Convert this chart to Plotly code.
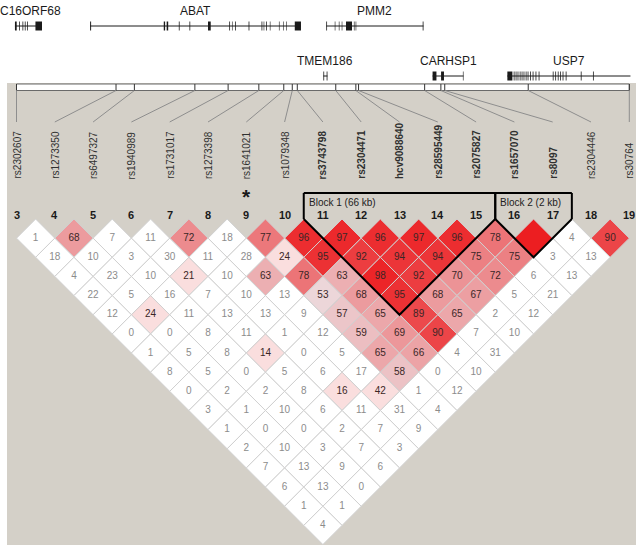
import plotly.graph_objects as go

# ---------------- data ----------------
snp_numbers = list(range(3, 20))
snp_names = ["rs2302607", "rs1273350", "rs6497327", "rs1940989", "rs1731017",
             "rs1273398", "rs1641021", "rs1079348", "rs3743798", "rs2304471",
             "hcv9088640", "rs28595449", "rs2075827", "rs1657070", "rs8097",
             "rs2304446", "rs30764"]
snp_pos_kb = [0.0, 51.5, 61.0, 92.3, 109.5, 125.4, 138.3, 142.7, 145.3, 165.2,
              175.6, 177.0, 211.2, 219.6, 221.6, 264.8, 317.1]

# D' (x100) by diagonal distance: ld_rows[k][n] = pair (snp n, snp n+k+1)
ld_rows = [
    [1, 68, 7, 11, 72, 18, 77, 96, 97, 96, 97, 96, 78, 100, 4, 90],
    [18, 10, 3, 30, 11, 28, 24, 95, 92, 94, 94, 75, 75, 3, 13],
    [4, 23, 10, 21, 10, 63, 78, 63, 98, 92, 70, 72, 6, 13],
    [22, 5, 16, 7, 10, 13, 53, 68, 95, 68, 67, 5, 21],
    [12, 24, 11, 13, 13, 9, 57, 65, 89, 65, 2, 12],
    [0, 0, 8, 11, 1, 12, 59, 69, 90, 7, 10],
    [1, 5, 8, 14, 0, 5, 65, 66, 4, 31],
    [8, 5, 0, 5, 6, 17, 58, 0, 10],
    [0, 2, 2, 8, 16, 42, 1, 12],
    [3, 1, 10, 6, 11, 31, 4],
    [1, 0, 0, 2, 7, 9],
    [2, 10, 3, 7, 3],
    [7, 13, 9, 6],
    [6, 13, 0],
    [1, 1],
    [4],
]
# pairs with LOD >= 2 although D' < 0.5 (light pink)
lod_sig_low = [(9, 11), (6, 9), (4, 9), (6, 13), (7, 16), (8, 17)]
blocks = [(11, 15), (16, 17)]
marked_snp = 9

gene_names = ["C16ORF68", "ABAT", "PMM2", "TMEM186", "CARHSP1", "USP7"]
gene_track = [0, 0, 0, 1, 1, 1]
gene_start = [-0.8, 38.1, 160.3, 158.8, 215.3, 254.0]
gene_end = [13.2, 147.2, 210.6, 160.9, 231.3, 317.7]
gene_exons = [
    [(-0.8, 0.1), (1.4, 1.8), (3.1, 3.5), (4.3, 4.7), (5.5, 5.9), (9.8, 13.2)],
    [(38.1, 38.6), (76.2, 76.9), (77.7, 78.5), (84.0, 84.4), (89.5, 89.9),
     (99.1, 100.5), (110.1, 110.5), (111.5, 111.8), (113.1, 113.5),
     (120.1, 120.5), (126.8, 127.2), (127.9, 128.2), (129.1, 129.5),
     (131.1, 131.4), (135.8, 136.1), (138.1, 138.4), (139.6, 139.9),
     (144.0, 147.2)],
    [(160.3, 160.7), (164.7, 165.0), (166.8, 167.1), (168.3, 168.6),
     (170.5, 173.6), (174.6, 174.9), (175.5, 175.8), (210.2, 210.6)],
    [(158.8, 159.2), (160.5, 160.9)],
    [(215.3, 217.3), (219.7, 221.2), (231.0, 231.3)],
    [(254.0, 256.6), (257.3, 257.7), (258.3, 258.7), (259.3, 259.7),
     (260.4, 260.8), (261.4, 261.8), (262.4, 262.8), (263.5, 263.9),
     (264.5, 264.9), (265.8, 266.2), (267.1, 267.5), (268.6, 269.0),
     (270.2, 270.6), (277.5, 277.9), (278.8, 279.2), (280.1, 280.5),
     (281.3, 281.7), (282.6, 283.0), (284.2, 284.6), (292.0, 292.4),
     (298.3, 298.7)],
]

# ---------------- layout helpers ----------------
W, H = 641, 548
PX_X0, COL_W = 16.5, 38.3      # pixel x of first SNP column, column spacing
ROW_Y0, ROW_H = 219.0, 19.15   # pixel y of triangle top, half-diamond height
FONT = "Liberation Sans, Arial, sans-serif"


def xpx(px):
    return snp_numbers[0] + (px - PX_X0) / COL_W


def ypx(px):
    return (px - ROW_Y0) / ROW_H


def kb_to_x(kb):
    k0, k1 = snp_pos_kb[0], snp_pos_kb[-1]
    return snp_numbers[0] + (kb - k0) / (k1 - k0) * (snp_numbers[-1] - snp_numbers[0])


def cell_color(v, sig):
    if not sig:
        return "white"
    d = v / 100.0
    if d < 0.5:
        return "rgb(250,222,222)"
    blgr = (255 - 32) * 2 * (1 - d)
    g = int(30 + blgr * 0.88)
    return f"rgb(236,{g},{g + 3})"


shapes = []
annotations = []

# gray panel
shapes.append(dict(type="rect", xref="paper", yref="paper", x0=7 / W, x1=636 / W,
                   y0=1 - 545 / H, y1=1 - 83 / H, fillcolor="#d4d0c8",
                   line=dict(width=0), layer="below"))

# genes
track_line_px = [26, 76]
track_text_px = [11, 61]
for name, tr, gs, ge, exons in zip(gene_names, gene_track, gene_start, gene_end, gene_exons):
    yl = ypx(track_line_px[tr])
    shapes.append(dict(type="line", x0=kb_to_x(gs), x1=kb_to_x(ge), y0=yl, y1=yl,
                       line=dict(color="#1a1a1a", width=1)))
    for s, e in exons:
        shapes.append(dict(type="rect", x0=kb_to_x(s), x1=kb_to_x(e),
                           y0=ypx(track_line_px[tr] - 4.5), y1=ypx(track_line_px[tr] + 4.5),
                           fillcolor="#1a1a1a", line=dict(width=0)))
    # keep the label inside the picture (approx. 6.8 px per character at 12 px)
    half_w = len(name) * 6.8 / 2
    cx = kb_to_x((gs + ge) / 2)
    cx = max(cx, xpx(3 + half_w))
    annotations.append(dict(x=cx, y=ypx(track_text_px[tr]), text=name,
                            showarrow=False, xanchor="center", yanchor="middle",
                            font=dict(family=FONT, size=12, color="#1a1a1a")))

# ruler
shapes.append(dict(type="rect", x0=kb_to_x(snp_pos_kb[0]), x1=kb_to_x(snp_pos_kb[-1]),
                   y0=ypx(84), y1=ypx(90.5), fillcolor="white",
                   line=dict(color="#6a6a6a", width=1)))
for num, kb in zip(snp_numbers, snp_pos_kb):
    shapes.append(dict(type="line", x0=kb_to_x(kb), x1=kb_to_x(kb), y0=ypx(84), y1=ypx(90.5),
                       line=dict(color="#333333", width=1)))
    shapes.append(dict(type="line", x0=kb_to_x(kb), x1=num, y0=ypx(90.5), y1=ypx(122),
                       line=dict(color="#8e8e8e", width=1)))

# SNP labels and numbers
for num, name in zip(snp_numbers, snp_names):
    in_block = any(a <= num <= b for a, b in blocks)
    txt = f"<b>{name}</b>" if in_block else name
    annotations.append(dict(x=num, y=ypx(181), text=txt, textangle=-90, showarrow=False,
                            xanchor="center", yanchor="bottom",
                            font=dict(family=FONT, size=10, color="#303030")))
    annotations.append(dict(x=num, y=ypx(215), text=f"<b>{num}</b>", showarrow=False,
                            xanchor="center", yanchor="middle",
                            font=dict(family=FONT, size=11, color="#1a1a1a")))

annotations.append(dict(x=marked_snp, y=ypx(183), text="<b>*</b>", showarrow=False,
                        xanchor="center", yanchor="top",
                        font=dict(family=FONT, size=21, color="#1a1a1a")))

# LD cells
tx, ty, tt, tc = [], [], [], []
for k, row in enumerate(ld_rows):
    dist = k + 1
    for n, v in enumerate(row):
        i = snp_numbers[n]
        j = i + dist
        sig = v >= 50 or (i, j) in lod_sig_low
        cx, cy = (i + j) / 2, dist
        path = f"M {cx - 0.5} {cy} L {cx} {cy - 1} L {cx + 0.5} {cy} L {cx} {cy + 1} Z"
        shapes.append(dict(type="path", path=path, fillcolor=cell_color(v, sig),
                           line=dict(color="#d0d0d0", width=1), layer="below"))
        if v < 100:
            tx.append(cx)
            ty.append(cy)
            tt.append(str(v))
            tc.append("#3a2626" if sig else "#8c8c8c")

# blocks
for bi, (a, b) in enumerate(blocks):
    path = f"M {a - 0.5} 0 L {(a + b) / 2} {b - a + 1} L {b + 0.5} 0"
    shapes.append(dict(type="path", path=path, line=dict(color="black", width=2)))
    size = round(snp_pos_kb[b - snp_numbers[0]] - snp_pos_kb[a - snp_numbers[0]])
    annotations.append(dict(x=xpx(PX_X0 + (a - 3.5) * COL_W + 3), y=ypx(202),
                            text=f"Block {bi + 1} ({size} kb)", showarrow=False,
                            xanchor="left", yanchor="middle",
                            font=dict(family=FONT, size=10, color="#222222")))
    for xv in (a - 0.5, b + 0.5):
        shapes.append(dict(type="line", x0=xv, x1=xv, y0=ypx(193), y1=0,
                           line=dict(color="black", width=2)))
shapes.append(dict(type="line", x0=blocks[0][0] - 0.5, x1=blocks[-1][1] + 0.5,
                   y0=ypx(193), y1=ypx(193), line=dict(color="black", width=2)))

fig = go.Figure()
fig.add_trace(go.Scatter(x=tx, y=ty, text=tt, mode="text",
                         textfont=dict(family=FONT, size=10, color=tc),
                         hoverinfo="skip", showlegend=False))
fig.update_layout(
    width=W, height=H, margin=dict(l=0, r=0, t=0, b=0, pad=0),
    paper_bgcolor="white", plot_bgcolor="rgba(0,0,0,0)",
    xaxis=dict(range=[xpx(0), xpx(W)], visible=False, fixedrange=True),
    yaxis=dict(range=[ypx(H), ypx(0)], visible=False, fixedrange=True),
    shapes=shapes, annotations=annotations, showlegend=False,
)
fig.write_html("out.html", config={"displayModeBar": False},
               post_script="document.body.style.margin='0';")
